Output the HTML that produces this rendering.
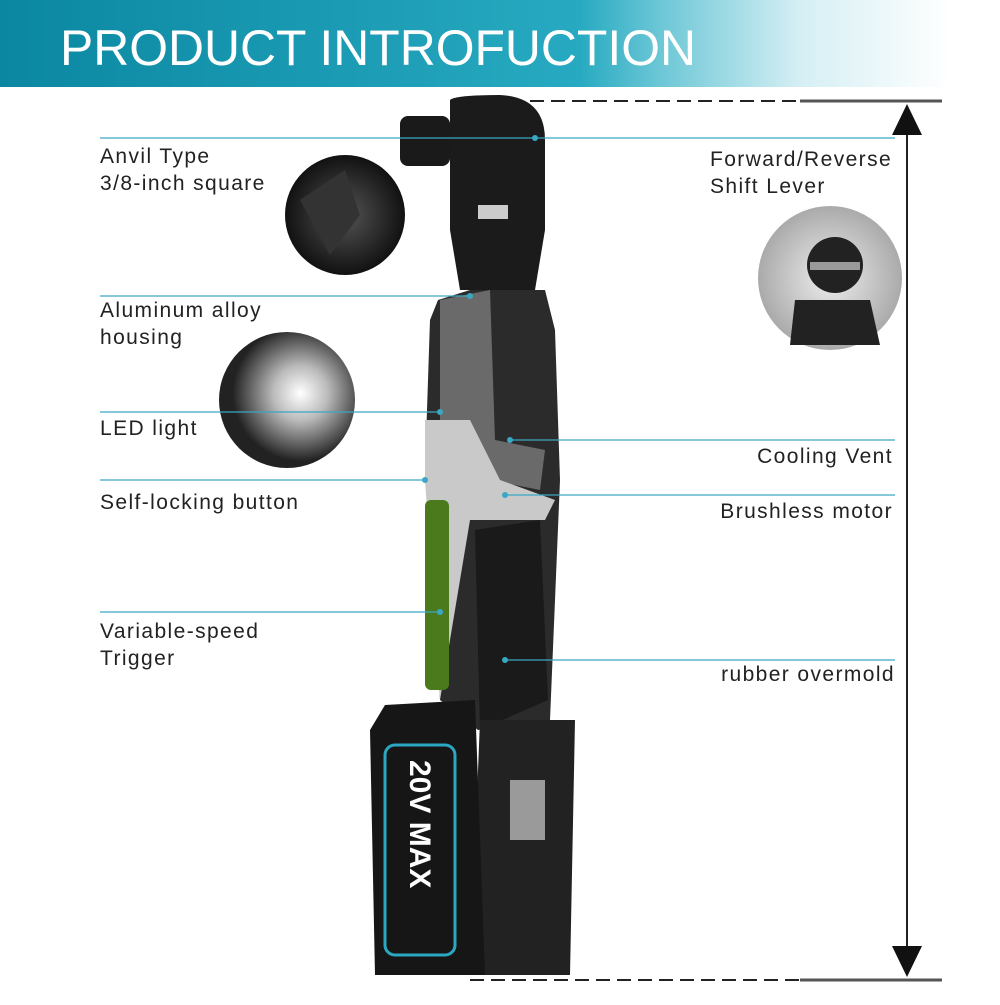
<!DOCTYPE html>
<html><head><meta charset="utf-8"><style>
body{margin:0;width:1000px;height:1000px;background:#fff;overflow:hidden;font-family:"Liberation Sans",sans-serif}
</style></head><body>
<svg width="1000" height="1000" viewBox="0 0 1000 1000" xmlns="http://www.w3.org/2000/svg" font-family="Liberation Sans, sans-serif">
<defs>
<linearGradient id="hd" x1="0" x2="1" y1="0" y2="0">
<stop offset="0" stop-color="#0b87a1"/><stop offset="0.58" stop-color="#27aac1"/><stop offset="0.66" stop-color="#6cc7d6"/><stop offset="0.8" stop-color="#d5eff4"/><stop offset="0.95" stop-color="#fff"/>
</linearGradient>
<radialGradient id="c1" cx="0.5" cy="0.5" r="0.5"><stop offset="0" stop-color="#555"/><stop offset="1" stop-color="#111"/></radialGradient>
<radialGradient id="c2" cx="0.6" cy="0.45" r="0.5"><stop offset="0" stop-color="#fff"/><stop offset="0.4" stop-color="#bbb"/><stop offset="1" stop-color="#222"/></radialGradient>
<radialGradient id="c3" cx="0.5" cy="0.5" r="0.5"><stop offset="0" stop-color="#eee"/><stop offset="1" stop-color="#aaa"/></radialGradient>
</defs>
<rect x="0" y="0" width="1000" height="87" fill="url(#hd)"/>
<text x="60" y="65" font-size="50" fill="#fff" textLength="636" lengthAdjust="spacingAndGlyphs">PRODUCT INTROFUCTION</text>

<line x1="530" y1="101" x2="800" y2="101" stroke="#222" stroke-width="2" stroke-dasharray="14,7"/>
<line x1="800" y1="101" x2="942" y2="101" stroke="#555" stroke-width="3"/>
<line x1="470" y1="980" x2="800" y2="980" stroke="#222" stroke-width="2" stroke-dasharray="14,7"/>
<line x1="800" y1="980" x2="942" y2="980" stroke="#555" stroke-width="3"/>
<line x1="907" y1="120" x2="907" y2="960" stroke="#222" stroke-width="2"/>
<polygon points="907,104 892,135 922,135" fill="#111"/>
<polygon points="907,977 892,946 922,946" fill="#111"/>

<circle cx="345" cy="215" r="60" fill="url(#c1)"/>
<polygon points="300,200 345,170 360,215 330,255" fill="#333"/>
<circle cx="287" cy="400" r="68" fill="url(#c2)"/>
<circle cx="830" cy="278" r="72" fill="url(#c3)"/>
<circle cx="835" cy="265" r="28" fill="#222"/>
<rect x="810" y="262" width="50" height="8" fill="#999"/>
<path d="M795 300 L870 300 L880 345 L790 345Z" fill="#222"/>

<rect x="400" y="116" width="50" height="50" rx="8" fill="#1a1a1a"/>
<path d="M450 100 Q455 95 500 95 Q545 97 545 140 L545 230 L535 290 L460 290 L450 230Z" fill="#1b1b1b"/>
<rect x="478" y="205" width="30" height="14" fill="#ccc"/>
<path d="M438 300 L470 290 L545 290 L555 330 L560 480 L550 720 L478 730 L440 700 L425 470 L430 320Z" fill="#2b2b2b"/>
<path d="M440 300 L490 290 L495 440 L545 450 L540 490 L440 470Z" fill="#6a6a6a"/>
<path d="M425 420 L470 420 L500 480 L555 500 L545 520 L470 520 L440 700 L425 480Z" fill="#c9c9c9"/>
<rect x="425" y="500" width="24" height="190" rx="6" fill="#4b7a1c"/>
<path d="M475 530 L540 520 L548 700 L480 730Z" fill="#1a1a1a"/>
<path d="M480 720 L575 720 L570 975 L470 975Z" fill="#222"/>
<rect x="510" y="780" width="35" height="60" fill="#9a9a9a"/>
<path d="M385 705 L475 700 L485 975 L375 975 L370 730Z" fill="#161616"/>
<rect x="385" y="745" width="70" height="210" rx="10" fill="none" stroke="#2ba7c2" stroke-width="3"/>
<text transform="translate(410,760) rotate(90)" font-size="30" font-weight="bold" fill="#fff">20V MAX</text>

<g stroke="#3aa7c4" stroke-width="1.3">
<line x1="100" y1="138" x2="535" y2="138"/>
<line x1="535" y1="138" x2="895" y2="138"/>
<line x1="100" y1="296" x2="470" y2="296"/>
<line x1="100" y1="412" x2="440" y2="412"/>
<line x1="100" y1="480" x2="425" y2="480"/>
<line x1="100" y1="612" x2="440" y2="612"/>
<line x1="510" y1="440" x2="895" y2="440"/>
<line x1="505" y1="495" x2="895" y2="495"/>
<line x1="505" y1="660" x2="895" y2="660"/>
</g>
<g fill="#3aa7c4"><circle cx="535" cy="138" r="3"/><circle cx="470" cy="296" r="3"/><circle cx="440" cy="412" r="3"/><circle cx="425" cy="480" r="3"/><circle cx="440" cy="612" r="3"/><circle cx="510" cy="440" r="3"/><circle cx="505" cy="495" r="3"/><circle cx="505" cy="660" r="3"/></g>

<g font-size="21" fill="#222" letter-spacing="1.4">
<text x="100" y="163">Anvil Type</text>
<text x="100" y="190">3/8-inch square</text>
<text x="100" y="317">Aluminum alloy</text>
<text x="100" y="344">housing</text>
<text x="100" y="435">LED light</text>
<text x="100" y="509">Self-locking button</text>
<text x="100" y="638">Variable-speed</text>
<text x="100" y="665">Trigger</text>
<text x="710" y="166">Forward/Reverse</text>
<text x="710" y="193">Shift Lever</text>
<text x="893" y="463" text-anchor="end">Cooling Vent</text>
<text x="893" y="518" text-anchor="end">Brushless motor</text>
<text x="895" y="681" text-anchor="end">rubber overmold</text>
</g>
</svg>
</body></html>
